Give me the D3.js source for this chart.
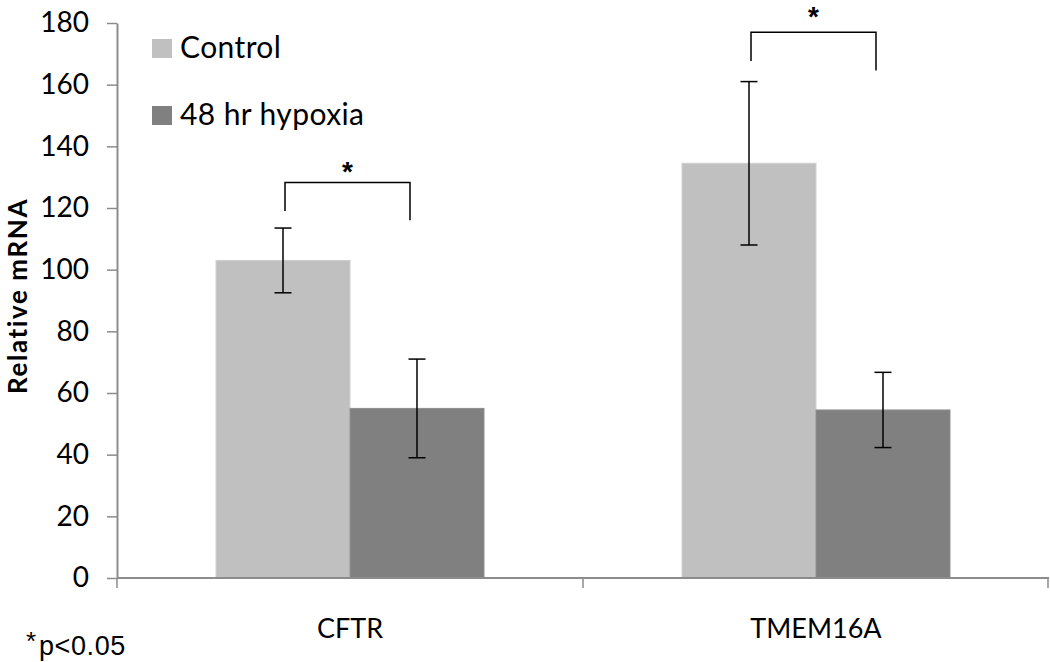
<!DOCTYPE html>
<html>
<head>
<meta charset="utf-8">
<script src="https://cdn.jsdelivr.net/npm/d3@7"></script>
<style>
  html, body { margin: 0; padding: 0; background: #fff; }
  svg { display: block; }
</style>
</head>
<body>
<svg id="chart" width="1050" height="662"></svg>
<script>
const categories = ["CFTR", "TMEM16A"];
const series = ["Control", "48 hr hypoxia"];
const controlValues = [103, 134.5];
const hypoxiaValues = [55, 54.5];
const controlErrors = [10.5, 26.5];
const hypoxiaErrors = [16, 12.2];
const yTicks = [0, 20, 40, 60, 80, 100, 120, 140, 160, 180];
const bracketTop = [128.3, 177];
const bracketLeftEnd = [119, 167.7];
const bracketRightEnd = [116, 164.6];
const starValues = [133.6, 184.0];
const footnote = "p<0.05";
const yLabel = "Relative mRNA";

const colors = ["#c0c0c0", "#808080"];
const axisColor = "#8c8c8c";

const svg = d3.select("#chart");
svg.append("rect").attr("width", 1050).attr("height", 662).attr("fill", "#fff");

const y = d3.scaleLinear().domain([0, 180]).range([578, 23]);
const x = d3.scaleBand().domain(categories).range([117, 1049]).padding(0);
const xs = d3.scaleBand().domain(series).range([0, x.bandwidth()]).paddingInner(0).paddingOuter(0.739);

const valuesBySeries = [controlValues, hypoxiaValues];
const errorsBySeries = [controlErrors, hypoxiaErrors];

// bars
const barData = [];
categories.forEach((c, i) => {
  series.forEach((s, j) => {
    barData.push({ c, s, j, v: valuesBySeries[j][i], e: errorsBySeries[j][i] });
  });
});

svg.append("g").selectAll("rect").data(barData).join("rect")
  .attr("x", d => x(d.c) + xs(d.s))
  .attr("y", d => y(d.v))
  .attr("width", xs.bandwidth())
  .attr("height", d => y(0) - y(d.v))
  .attr("fill", d => colors[d.j])
  .attr("stroke", d => d.j === 0 ? "#d0d0d0" : "#8e8e8e")
  .attr("stroke-width", 1);

// axes
const yAxis = d3.axisLeft(y).tickValues(yTicks).tickSize(10).tickSizeOuter(0).tickPadding(18);
const gy = svg.append("g").attr("transform", "translate(117,0)").call(yAxis);
gy.select(".domain").attr("stroke", axisColor).attr("stroke-width", 2);
gy.selectAll(".tick line").attr("stroke", axisColor).attr("stroke-width", 1.5);
gy.selectAll(".tick text")
  .attr("fill", "#000")
  .style("font-family", "Lato, 'Open Sans', sans-serif")
  .style("font-size", "28px");

// x axis line and boundary ticks
const gx = svg.append("g");
gx.append("line")
  .attr("x1", x.range()[0]).attr("x2", x.range()[1])
  .attr("y1", y(0)).attr("y2", y(0))
  .attr("stroke", axisColor).attr("stroke-width", 2);
const boundaries = categories.map(c => x(c)).concat([x.range()[1] - 1]);
gx.selectAll("line.tk").data(boundaries).join("line").attr("class", "tk")
  .attr("x1", d => d).attr("x2", d => d)
  .attr("y1", y(0)).attr("y2", y(0) + 10)
  .attr("stroke", axisColor).attr("stroke-width", 1.5);
gx.selectAll("text").data(categories).join("text")
  .attr("x", d => x(d) + x.bandwidth() / 2)
  .attr("y", 638)
  .attr("text-anchor", "middle")
  .style("font-family", "Lato, 'Open Sans', sans-serif")
  .style("font-size", "27px")
  .text(d => d);

// error bars
const cap = 8.5;
const eg = svg.append("g").attr("stroke", "#000").attr("stroke-width", 1.5);
barData.forEach(d => {
  const cx = x(d.c) + xs(d.s) + xs.bandwidth() / 2;
  eg.append("line").attr("x1", cx).attr("x2", cx).attr("y1", y(d.v + d.e)).attr("y2", y(d.v - d.e));
  eg.append("line").attr("x1", cx - cap).attr("x2", cx + cap).attr("y1", y(d.v + d.e)).attr("y2", y(d.v + d.e));
  eg.append("line").attr("x1", cx - cap).attr("x2", cx + cap).attr("y1", y(d.v - d.e)).attr("y2", y(d.v - d.e));
});

// significance brackets
const bg = svg.append("g");
categories.forEach((c, i) => {
  const xl = x(c) + xs(series[0]) + xs.bandwidth() / 2 + 2;
  const xr = x(c) + xs(series[1]) + xs.bandwidth() / 2 - 7;
  bg.append("path")
    .attr("d", `M${xl},${y(bracketLeftEnd[i])}V${y(bracketTop[i])}H${xr}V${y(bracketRightEnd[i])}`)
    .attr("fill", "none").attr("stroke", "#000").attr("stroke-width", 1.5);
  bg.append("text")
    .attr("x", (xl + xr) / 2)
    .attr("y", y(starValues[i]))
    .attr("dy", "0.55em")
    .attr("text-anchor", "middle")
    .style("font-family", "'Liberation Sans', Arial, sans-serif")
    .style("font-weight", "bold")
    .style("font-size", "28px")
    .text("*");
});

// legend
const lg = svg.append("g");
const legendY = [39, 106];
series.forEach((s, j) => {
  lg.append("rect").attr("x", 152).attr("y", legendY[j]).attr("width", 20).attr("height", 19).attr("fill", colors[j]);
  lg.append("text")
    .attr("x", 180).attr("y", legendY[j] + 19)
    .style("font-family", "Lato, 'Open Sans', sans-serif")
    .style("font-size", "30px")
    .style("letter-spacing", "0.4px")
    .text(s);
});

// y label
svg.append("text")
  .attr("transform", "translate(27,296) rotate(-90)")
  .attr("text-anchor", "middle")
  .style("font-family", "Lato, 'Open Sans', sans-serif")
  .style("font-weight", "bold")
  .style("font-size", "26px")
  .style("letter-spacing", "1.6px")
  .text(yLabel);

// footnote
svg.append("text")
  .attr("x", 26).attr("y", 650)
  .style("font-family", "'Liberation Sans', Arial, sans-serif")
  .style("font-size", "26px")
  .text("*");
svg.append("text")
  .attr("x", 39).attr("y", 655)
  .style("font-family", "'Liberation Sans', Arial, sans-serif")
  .style("font-size", "27px")
  .style("letter-spacing", "0.6px")
  .text(footnote);
</script>
</body>
</html>
